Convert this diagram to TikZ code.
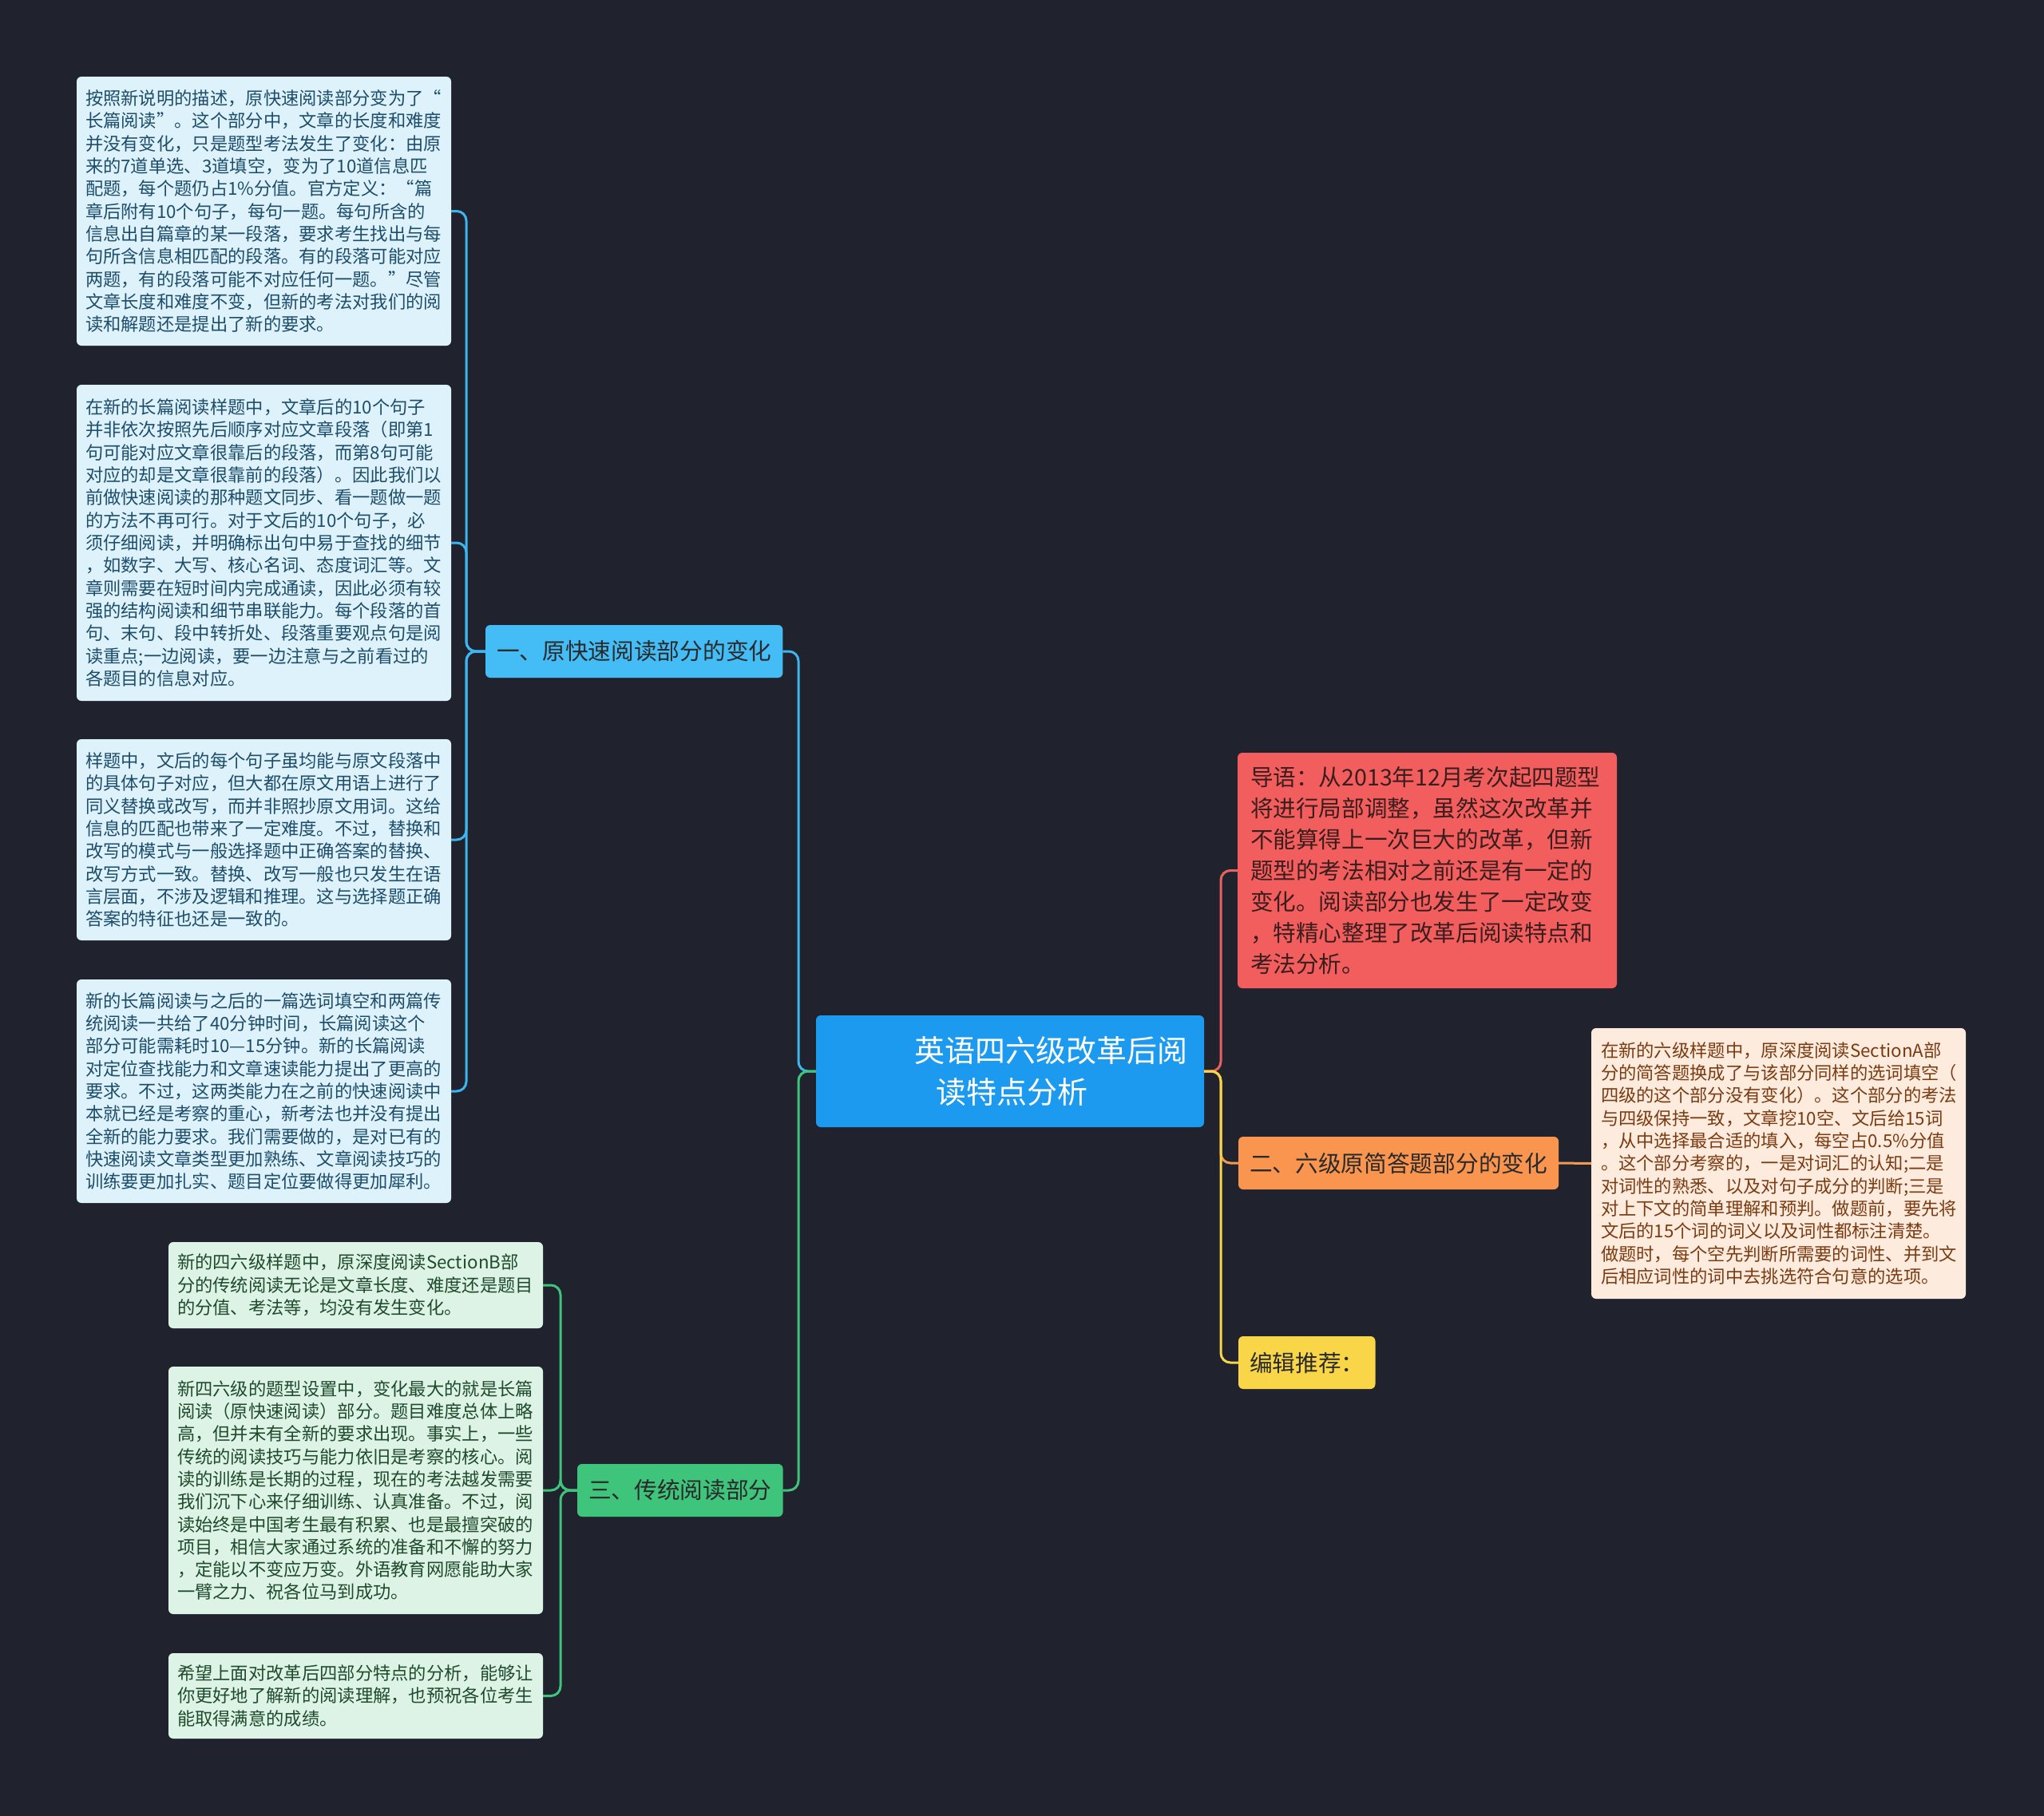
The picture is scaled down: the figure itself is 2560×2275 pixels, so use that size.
\documentclass[tikz,border=0pt]{standalone}
\usepackage{fontspec}
\newfontfamily\cjk{Noto Sans CJK SC}
\definecolor{bg}{HTML}{20232E}
\definecolor{cfill}{HTML}{1C9AEF}
\definecolor{bluebr}{HTML}{44BDF7}
\definecolor{bluelf}{HTML}{DDF2FB}
\definecolor{bluetx}{HTML}{1E4D6B}
\definecolor{bluec}{HTML}{3DB6F0}
\definecolor{greenbr}{HTML}{3FC47C}
\definecolor{greenlf}{HTML}{DDF3E6}
\definecolor{greentx}{HTML}{1F4A2C}
\definecolor{greenc}{HTML}{3FC47C}
\definecolor{redbr}{HTML}{F25E5E}
\definecolor{redtx}{HTML}{3B1D1D}
\definecolor{redc}{HTML}{E8615F}
\definecolor{orgbr}{HTML}{F9954E}
\definecolor{orglf}{HTML}{FDEBDD}
\definecolor{orgtx}{HTML}{7B3B12}
\definecolor{orgc}{HTML}{F29A52}
\definecolor{yelbr}{HTML}{F9D648}
\definecolor{yelc}{HTML}{F6D54A}
\definecolor{darktx}{HTML}{2A2A2A}
\newcommand\leaffont{\cjk\fontsize{22.3pt}{28.33pt}\selectfont}
\newcommand\brfont{\cjk\fontsize{28.7pt}{34pt}\selectfont}
\begin{document}
\begin{tikzpicture}[x=1pt,y=-1pt,
  base/.style={rectangle, rounded corners=6pt, anchor=north west, align=left, inner ysep=0pt, outer sep=0pt},
  leafbox/.style={base, inner xsep=11pt, text width=447pt, minimum width=469pt, font=\leaffont},
  blueleaf/.style={leafbox, fill=bluelf, text=bluetx},
  greenleaf/.style={leafbox, fill=greenlf, text=greentx},
  orgleaf/.style={leafbox, fill=orglf, text=orgtx, inner xsep=12pt, text width=445pt},
  branch/.style={base, inner xsep=14pt, minimum height=66pt, font=\brfont, text=darktx},
  conn/.style={line width=3pt, rounded corners=12pt},
]
\fill[bg] (0,0) rectangle (2560,2275);
\useasboundingbox (0,0) rectangle (2560,2275);

% central
\node[base, fill=cfill, text=white, inner xsep=0pt, text width=486pt, minimum width=486pt, minimum height=140pt,
  font=\cjk\fontsize{38pt}{52pt}\selectfont] (c) at (1022,1272)
  {\hspace*{123pt}英语四六级改革后阅\\\hspace*{150pt}读特点分析};

% branches
\node[branch, fill=bluebr] (b1) at (608,783) {一、原快速阅读部分的变化};
\node[branch, fill=orgbr] (b2) at (1551,1424) {二、六级原简答题部分的变化};
\node[branch, fill=greenbr] (b3) at (723,1834) {三、传统阅读部分};
\node[branch, fill=yelbr] (b4) at (1551,1674) {编辑推荐：};
\node[base, fill=redbr, text=redtx, inner xsep=16pt, text width=443pt, minimum width=475pt, minimum height=295pt,
  font=\cjk\fontsize{28.6pt}{38.9pt}\selectfont] (red) at (1550,943)
  {导语：从2013年12月考次起四题型\\将进行局部调整，虽然这次改革并\\不能算得上一次巨大的改革，但新\\题型的考法相对之前还是有一定的\\变化。阅读部分也发生了一定改变\\，特精心整理了改革后阅读特点和\\考法分析。};

% blue leaves
\node[blueleaf, minimum height=337pt] (l1) at (96,96)
  {按照新说明的描述，原快速阅读部分变为了“\\长篇阅读”。这个部分中，文章的长度和难度\\并没有变化，只是题型考法发生了变化：由原\\来的7道单选、3道填空，变为了10道信息匹\\配题，每个题仍占1\%分值。官方定义：“篇\\章后附有10个句子，每句一题。每句所含的\\信息出自篇章的某一段落，要求考生找出与每\\句所含信息相匹配的段落。有的段落可能对应\\两题，有的段落可能不对应任何一题。”尽管\\文章长度和难度不变，但新的考法对我们的阅\\读和解题还是提出了新的要求。};
\node[blueleaf, minimum height=396pt] (l2) at (96,482)
  {在新的长篇阅读样题中，文章后的10个句子\\并非依次按照先后顺序对应文章段落（即第1\\句可能对应文章很靠后的段落，而第8句可能\\对应的却是文章很靠前的段落）。因此我们以\\前做快速阅读的那种题文同步、看一题做一题\\的方法不再可行。对于文后的10个句子，必\\须仔细阅读，并明确标出句中易于查找的细节\\，如数字、大写、核心名词、态度词汇等。文\\章则需要在短时间内完成通读，因此必须有较\\强的结构阅读和细节串联能力。每个段落的首\\句、末句、段中转折处、段落重要观点句是阅\\读重点;一边阅读，要一边注意与之前看过的\\各题目的信息对应。};
\node[blueleaf, minimum height=252pt] (l3) at (96,926)
  {样题中，文后的每个句子虽均能与原文段落中\\的具体句子对应，但大都在原文用语上进行了\\同义替换或改写，而并非照抄原文用词。这给\\信息的匹配也带来了一定难度。不过，替换和\\改写的模式与一般选择题中正确答案的替换、\\改写方式一致。替换、改写一般也只发生在语\\言层面，不涉及逻辑和推理。这与选择题正确\\答案的特征也还是一致的。};
\node[blueleaf, minimum height=280pt] (l4) at (96,1227)
  {新的长篇阅读与之后的一篇选词填空和两篇传\\统阅读一共给了40分钟时间，长篇阅读这个\\部分可能需耗时10—15分钟。新的长篇阅读\\对定位查找能力和文章速读能力提出了更高的\\要求。不过，这两类能力在之前的快速阅读中\\本就已经是考察的重心，新考法也并没有提出\\全新的能力要求。我们需要做的，是对已有的\\快速阅读文章类型更加熟练、文章阅读技巧的\\训练要更加扎实、题目定位要做得更加犀利。};

% green leaves
\node[greenleaf, minimum height=108pt] (g1) at (211,1556)
  {新的四六级样题中，原深度阅读SectionB部\\分的传统阅读无论是文章长度、难度还是题目\\的分值、考法等，均没有发生变化。};
\node[greenleaf, minimum height=310pt] (g2) at (211,1712)
  {新四六级的题型设置中，变化最大的就是长篇\\阅读（原快速阅读）部分。题目难度总体上略\\高，但并未有全新的要求出现。事实上，一些\\传统的阅读技巧与能力依旧是考察的核心。阅\\读的训练是长期的过程，现在的考法越发需要\\我们沉下心来仔细训练、认真准备。不过，阅\\读始终是中国考生最有积累、也是最擅突破的\\项目，相信大家通过系统的准备和不懈的努力\\，定能以不变应万变。外语教育网愿能助大家\\一臂之力、祝各位马到成功。};
\node[greenleaf, minimum height=107pt] (g3) at (211,2071)
  {希望上面对改革后四部分特点的分析，能够让\\你更好地了解新的阅读理解，也预祝各位考生\\能取得满意的成绩。};

% orange leaf
\node[orgleaf, minimum height=339pt] (o1) at (1993,1288)
  {在新的六级样题中，原深度阅读SectionA部\\分的简答题换成了与该部分同样的选词填空（\\四级的这个部分没有变化）。这个部分的考法\\与四级保持一致，文章挖10空、文后给15词\\，从中选择最合适的填入，每空占0.5\%分值\\。这个部分考察的，一是对词汇的认知;二是\\对词性的熟悉、以及对句子成分的判断;三是\\对上下文的简单理解和预判。做题前，要先将\\文后的15个词的词义以及词性都标注清楚。\\做题时，每个空先判断所需要的词性、并到文\\后相应词性的词中去挑选符合句意的选项。};

% connectors: left
\draw[conn, bluec] (c.west) -- ++(-22,0) |- (b1.east);
\draw[conn, greenc] (c.west) -- ++(-22,0) |- (b3.east);
\foreach \n in {l1,l2,l3,l4}
  \draw[conn, bluec] (b1.west) -- ++(-24,0) |- (\n.east);
\foreach \n in {g1,g2,g3}
  \draw[conn, greenc] (b3.west) -- ++(-21,0) |- (\n.east);
% connectors: right
\draw[conn, redc] (c.east) -- ++(21,0) |- (red.west);
\draw[conn, orgc] (c.east) -- ++(21,0) |- (b2.west);
\draw[conn, yelc] (c.east) -- ++(21,0) |- (b4.west);
\draw[conn, orgc] (b2.east) -- (o1.west);
\end{tikzpicture}
\end{document}
